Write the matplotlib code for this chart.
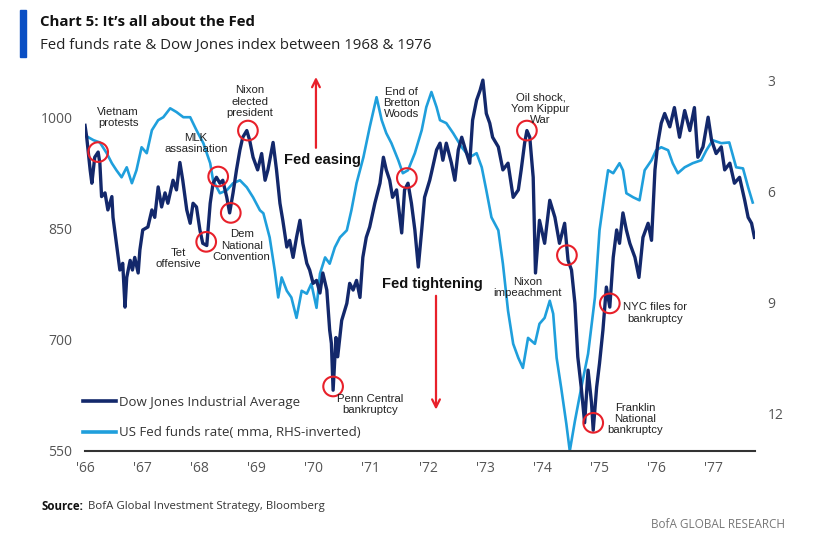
import matplotlib.pyplot as plt
from matplotlib.patches import Rectangle
from matplotlib.lines import Line2D

# Dow Jones Industrial Average (year, index level)
dow_t = [1966.00, 1966.03, 1966.09, 1966.12, 1966.17, 1966.23, 1966.26, 1966.29, 1966.35, 1966.40,
         1966.47, 1966.49, 1966.55, 1966.61, 1966.66, 1966.70, 1966.73, 1966.79, 1966.83, 1966.87,
         1966.93, 1966.96, 1967.01, 1967.10, 1967.17, 1967.22, 1967.28, 1967.34, 1967.40, 1967.45,
         1967.54, 1967.60, 1967.66, 1967.71, 1967.78, 1967.84, 1967.89, 1967.95, 1968.01, 1968.06,
         1968.13, 1968.19, 1968.24, 1968.30, 1968.36, 1968.41, 1968.48, 1968.53, 1968.59, 1968.65,
         1968.71, 1968.76, 1968.83, 1968.88, 1968.94, 1969.02, 1969.09, 1969.15, 1969.20, 1969.29,
         1969.35, 1969.41, 1969.46, 1969.53, 1969.58, 1969.64, 1969.70, 1969.76, 1969.81, 1969.88,
         1969.93, 1969.99, 1970.05, 1970.11, 1970.16, 1970.23, 1970.28, 1970.31, 1970.34, 1970.39,
         1970.42, 1970.49, 1970.58, 1970.63, 1970.69, 1970.75, 1970.81, 1970.86, 1970.92, 1970.98,
         1971.07, 1971.16, 1971.22, 1971.27, 1971.33, 1971.38, 1971.45, 1971.54, 1971.59, 1971.65,
         1971.71, 1971.77, 1971.83, 1971.89, 1971.94, 1972.03, 1972.06, 1972.15, 1972.21, 1972.26,
         1972.32, 1972.41, 1972.47, 1972.53, 1972.59, 1972.64, 1972.73, 1972.78, 1972.85, 1972.91,
         1972.96, 1973.02, 1973.08, 1973.13, 1973.23, 1973.31, 1973.40, 1973.49, 1973.58, 1973.63,
         1973.69, 1973.73, 1973.78, 1973.84, 1973.88, 1973.95, 1974.04, 1974.13, 1974.22, 1974.30,
         1974.39, 1974.45, 1974.51, 1974.57, 1974.62, 1974.68, 1974.74, 1974.80, 1974.86, 1974.89,
         1974.95, 1975.00, 1975.06, 1975.12, 1975.18, 1975.24, 1975.30, 1975.35, 1975.41, 1975.47,
         1975.53, 1975.62, 1975.69, 1975.76, 1975.85, 1975.91, 1975.97, 1976.02, 1976.08, 1976.14,
         1976.23, 1976.31, 1976.40, 1976.49, 1976.58, 1976.66, 1976.72, 1976.81, 1976.90, 1976.96,
         1977.04, 1977.13, 1977.19, 1977.28, 1977.36, 1977.45, 1977.54, 1977.60, 1977.66, 1977.71]
dow_v = [989, 973, 929, 911, 946, 953, 938, 893, 898, 875,
         893, 865, 830, 794, 803, 744, 784, 807, 794, 811,
         790, 821, 848, 852, 875, 865, 906, 879, 898, 884,
         915, 902, 939, 915, 875, 857, 884, 879, 848, 830,
         827, 884, 911, 919, 911, 915, 892, 871, 898, 929,
         956, 973, 982, 969, 946, 929, 951, 915, 929, 966,
         929, 884, 861, 825, 834, 811, 838, 861, 830, 803,
         794, 776, 780, 763, 790, 767, 713, 695, 632, 703,
         677, 726, 749, 776, 767, 780, 757, 811, 838, 852,
         884, 911, 946, 929, 915, 892, 902, 844, 902, 911,
         884, 848, 798, 848, 892, 915, 925, 956, 965, 942,
         965, 938, 915, 956, 973, 960, 938, 996, 1023, 1036,
         1050, 1005, 992, 973, 960, 929, 938, 892, 902, 929,
         965, 982, 973, 919, 790, 861, 830, 888, 865, 830,
         857, 807, 794, 749, 677, 636, 588, 659, 615, 578,
         636, 668, 713, 771, 744, 811, 848, 830, 871, 848,
         830, 811, 784, 838, 857, 834, 929, 965, 992, 1005,
         987, 1013, 973, 1009, 982, 1013, 946, 960, 1000, 969,
         951, 960, 929, 938, 911, 919, 888, 865, 857, 838]

# US Fed funds rate (year, %), plotted on the inverted right axis
fed_t = [1966.00, 1966.15, 1966.26, 1966.38, 1966.47, 1966.55, 1966.64, 1966.73, 1966.82, 1966.90,
         1966.99, 1967.08, 1967.17, 1967.28, 1967.37, 1967.49, 1967.60, 1967.72, 1967.84, 1967.95,
         1968.07, 1968.19, 1968.24, 1968.36, 1968.48, 1968.59, 1968.71, 1968.83, 1968.94, 1969.06,
         1969.12, 1969.23, 1969.32, 1969.38, 1969.44, 1969.53, 1969.61, 1969.70, 1969.79, 1969.88,
         1969.96, 1970.05, 1970.11, 1970.20, 1970.28, 1970.37, 1970.46, 1970.58, 1970.66, 1970.75,
         1970.87, 1970.98, 1971.10, 1971.19, 1971.27, 1971.36, 1971.48, 1971.56, 1971.65, 1971.77,
         1971.89, 1971.97, 1972.06, 1972.15, 1972.21, 1972.32, 1972.44, 1972.59, 1972.73, 1972.85,
         1972.94, 1973.02, 1973.11, 1973.23, 1973.31, 1973.40, 1973.49, 1973.58, 1973.66, 1973.75,
         1973.87, 1973.95, 1974.04, 1974.13, 1974.19, 1974.25, 1974.33, 1974.42, 1974.48, 1974.57,
         1974.68, 1974.80, 1974.92, 1975.00, 1975.09, 1975.15, 1975.24, 1975.35, 1975.41, 1975.47,
         1975.59, 1975.70, 1975.79, 1975.91, 1975.99, 1976.08, 1976.20, 1976.28, 1976.37, 1976.49,
         1976.63, 1976.78, 1976.87, 1976.98, 1977.13, 1977.27, 1977.39, 1977.51, 1977.60, 1977.68]
fed_v = [4.49, 4.62, 4.68, 4.97, 5.24, 5.43, 5.62, 5.35, 5.78, 5.43,
         4.81, 4.97, 4.35, 4.08, 4.00, 3.76, 3.86, 4.00, 4.00, 4.35,
         4.70, 5.24, 5.70, 6.05, 5.97, 5.78, 5.70, 5.89, 6.16, 6.51,
         6.59, 7.24, 8.14, 8.86, 8.32, 8.68, 8.86, 9.41, 8.68, 8.76,
         8.49, 9.14, 8.22, 7.78, 7.95, 7.51, 7.24, 7.05, 6.51, 5.78,
         5.08, 4.27, 3.46, 4.08, 4.43, 4.70, 5.16, 5.51, 5.43, 4.97,
         4.35, 3.73, 3.32, 3.73, 4.08, 4.16, 4.43, 4.81, 5.08, 4.97,
         5.35, 5.97, 6.70, 7.05, 7.95, 9.22, 10.11, 10.49, 10.76, 9.95,
         10.11, 9.57, 9.41, 8.95, 9.30, 10.49, 11.30, 12.27, 13.00, 12.19,
         11.30, 10.38, 8.86, 7.05, 6.05, 5.43, 5.51, 5.24, 5.43, 6.05,
         6.16, 6.24, 5.43, 5.16, 4.89, 4.81, 4.89, 5.24, 5.51, 5.35,
         5.24, 5.16, 4.89, 4.62, 4.70, 4.68, 5.35, 5.38, 5.89, 6.30]

# events circled on the Dow line
event_t = [1966.23, 1968.12, 1968.33, 1968.55, 1968.85, 1970.34, 1971.63, 1973.73, 1974.43, 1974.89, 1975.18]
event_v = [953, 832, 920, 871, 982, 637, 918, 982, 814, 588, 749]

# (text, year, level)
labels = [
    ("Vietnam\nprotests", 1966.58, 1000),
    ("MLK\nassasination", 1967.94, 965),
    ("Nixon\nelected\npresident", 1968.88, 1021),
    ("Tet\noffensive", 1967.63, 809),
    ("Dem\nNational\nConvention", 1968.74, 827),
    ("End of\nBretton\nWoods", 1971.54, 1019),
    ("Oil shock,\nYom Kippur\nWar", 1973.97, 1011),
    ("Nixon\nimpeachment", 1973.74, 770),
    ("Penn Central\nbankruptcy", 1970.98, 613),
    ("NYC files for\nbankruptcy", 1975.97, 736),
    ("Franklin\nNational\nbankruptcy", 1975.63, 593),
]

years = list(range(1966, 1978))
year_labels = ["'%02d" % (y % 100) for y in years]

DOW_COL = "#13286b"
FED_COL = "#1f9fdc"
GREY = "#555555"

fig = plt.figure(figsize=(8.19, 5.46), dpi=100)
ax = fig.add_axes([85 / 819, 1 - 451 / 546, 670 / 819, 382 / 546])
ax2 = ax.twinx()

ax.plot(dow_t, dow_v, color=DOW_COL, lw=2.4, zorder=3)
ax2.plot(fed_t, fed_v, color=FED_COL, lw=1.9, zorder=2)
ax.set_zorder(ax2.get_zorder() + 1)
ax.patch.set_visible(False)

ax.set_xlim(1966.0, 1977.72)
ax.set_ylim(550, 1065)
ax2.set_ylim(13, 2.7)

ax.set_yticks([550, 700, 850, 1000])
ax2.set_yticks([3, 6, 9, 12])
ax.set_xticks(years)
ax.set_xticklabels(year_labels)

for a in (ax, ax2):
    for s in a.spines.values():
        s.set_visible(False)
    a.tick_params(length=0, labelsize=10, labelcolor=GREY, labelfontfamily="Open Sans")
ax.spines["bottom"].set_visible(True)
ax.spines["bottom"].set_color("#333333")
ax.spines["bottom"].set_linewidth(1.5)
ax.tick_params(axis="y", pad=9)
ax.tick_params(axis="x", pad=7)
ax2.tick_params(axis="y", pad=9)

ax.scatter(event_t, event_v, s=200, facecolors="none", edgecolors="#e8202a", linewidths=1.5, zorder=4)

for txt, x, y in labels:
    ax.text(x, y, txt, ha="center", va="center", fontsize=8.2, color="#222222",
            family="Liberation Sans", linespacing=1.15, zorder=5)

ax.text(1970.16, 942, "Fed easing", ha="center", va="center", fontsize=10.5,
        fontweight="bold", family="Liberation Sans", color="#111111")
ax.text(1972.08, 775, "Fed tightening", ha="center", va="center", fontsize=10.5,
        fontweight="bold", family="Liberation Sans", color="#111111")
ax.annotate("", xy=(1970.04, 1058), xytext=(1970.04, 955),
            arrowprops=dict(arrowstyle="->", color="#e8202a", lw=1.6, mutation_scale=14))
ax.annotate("", xy=(1972.14, 602), xytext=(1972.14, 763),
            arrowprops=dict(arrowstyle="->", color="#e8202a", lw=1.6, mutation_scale=14))

handles = [Line2D([], [], color=DOW_COL, lw=2.6), Line2D([], [], color=FED_COL, lw=2.6)]
fig.legend(handles, ["Dow Jones Industrial Average", "US Fed funds rate( mma, RHS-inverted)"],
           loc="upper left", bbox_to_anchor=(76 / 819, 1 - 389 / 546), frameon=False,
           handlelength=2.5, handletextpad=0.25, labelspacing=1.35, borderpad=0,
           prop={"family": "Open Sans", "size": 9.5}, labelcolor="#333333")

# header and footer
fig.patches.append(Rectangle((20 / 819, 1 - 57 / 546), 6 / 819, 47 / 546,
                             transform=fig.transFigure, color="#0a4fc4"))
fig.text(40 / 819, 1 - 22 / 546, "Chart 5: It\u2019s all about the Fed", fontsize=10.8,
         fontweight="bold", family="Open Sans", va="center", color="#111111")
fig.text(40 / 819, 1 - 46 / 546, "Fed funds rate & Dow Jones index between 1968 & 1976",
         fontsize=10.8, family="Open Sans", va="center", color="#222222")
fig.text(42 / 819, 1 - 507 / 546, "Source:", fontsize=8.3, fontweight="bold",
         family="Open Sans", va="center", color="#111111")
fig.text(88 / 819, 1 - 507 / 546, "BofA Global Investment Strategy, Bloomberg", fontsize=8.2,
         family="Open Sans", va="center", color="#333333")
fig.text(785 / 819, 1 - 525 / 546, "BofA GLOBAL RESEARCH", fontsize=8.5, ha="right",
         family="Open Sans", va="center", color="#777777")

fig.savefig("out.png", dpi=100)
